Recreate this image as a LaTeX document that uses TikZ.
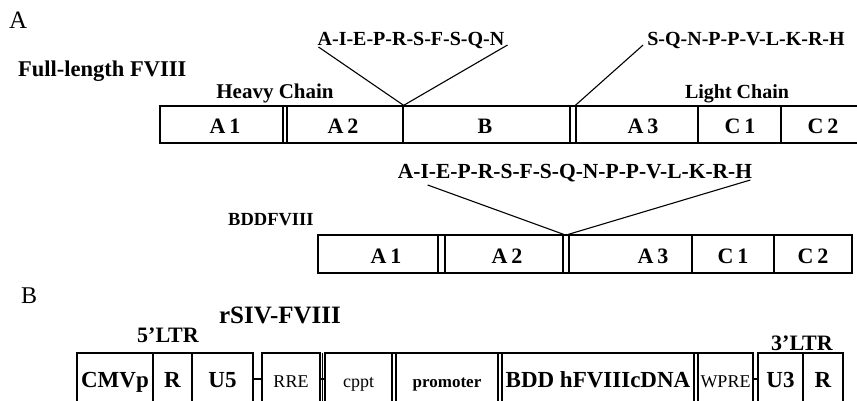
\documentclass[tikz,border=0pt]{standalone}
\usepackage{fontspec}
\setmainfont{Liberation Serif}
\newcommand{\fsz}[1]{\fontsize{#1}{#1}\selectfont}
\tikzset{
  txt/.style={inner sep=0pt, anchor=base},
  txtw/.style={inner sep=0pt, anchor=base west},
  panel/.style={txtw, font=\fsz{25}},
  title/.style={txt, font=\fsz{21}\bfseries},
  pep/.style={txt, font=\fsz{20}\bfseries},
  dom/.style={txt, font=\fsz{22}\bfseries},
  cell/.style={draw, line width=1.3pt, inner sep=0pt},
  vcell/.style={cell, minimum height=52pt, text height=16pt, text depth=0pt},
  vbig/.style={vcell, font=\fsz{23}\bfseries},
  vmid/.style={vcell, font=\fsz{17}\bfseries},
  vsmall/.style={vcell, font=\fsz{18}},
  frame/.style={draw, line width=1.3pt},
  link/.style={draw, line width=1.1pt}
}
\begin{document}
\begin{tikzpicture}[x=1pt, y=-1pt]
\useasboundingbox (0,0) rectangle (857,400);

% ---------- Panel A: full-length factor VIII ----------
\node[panel] (lblA) at (9,28) {A};
\node[txtw, font=\fsz{22.5}\bfseries] (fl) at (18,76) {Full-length FVIII};
\node[title] (heavy) at (275,98) {Heavy Chain};
\node[title, font=\fsz{20}\bfseries] (light) at (737,98) {Light Chain};

\draw[frame] (160,106) rectangle (875,143);
\node[cell, minimum width=123pt, minimum height=37pt] (a1) at (221.5,124.5) {};
\node[cell, minimum width=116pt, minimum height=37pt] (a2) at (345,124.5) {};
\node[cell, minimum width=167pt, minimum height=37pt] (b)  at (486.5,124.5) {};
\node[cell, minimum width=122pt, minimum height=37pt] (a3) at (637,124.5) {};
\node[cell, minimum width=83pt,  minimum height=37pt] (c1) at (739.5,124.5) {};
\node[cell, minimum width=94pt,  minimum height=37pt] (c2) at (828,124.5) {};

\node[dom] (ta1) at (225,133) {A\,1};
\node[dom] (ta2) at (343,133) {A\,2};
\node[dom] (tb)  at (485,133) {B};
\node[dom] (ta3) at (643,133) {A\,3};
\node[dom] (tc1) at (740,133) {C\,1};
\node[dom] (tc2) at (823,133) {C\,2};

\node[pep] (pep1) at (411,45) {A-I-E-P-R-S-F-S-Q-N};
\node[pep] (pep2) at (746,45) {S-Q-N-P-P-V-L-K-R-H};

\coordinate (p1l) at ([xshift=1pt,yshift=-2pt]pep1.base west);
\coordinate (p1r) at ([xshift=3pt]pep1.base east);
\coordinate (p2l) at ([xshift=-4pt]pep2.base west);
\draw[link] (p1l) -- (a2.north east) -- (p1r);
\draw[link] (p2l) -- (a3.north west);

% ---------- B-domain deleted factor VIII ----------
\node[txtw, font=\fsz{18.5}\bfseries] (bdd) at (228,225) {BDDFVIII};

\draw[frame] (318,235) rectangle (852,273);
\node[cell, minimum width=120pt, minimum height=38pt] (d1) at (378,254) {};
\node[cell, minimum width=118pt, minimum height=38pt] (d2) at (504,254) {};
\node[cell, minimum width=123pt, minimum height=38pt] (d3) at (630.5,254) {};
\node[cell, minimum width=82pt,  minimum height=38pt] (d4) at (733,254) {};
\node[cell, minimum width=78pt,  minimum height=38pt] (d5) at (813,254) {};

\node[dom] (td1) at (386,263) {A\,1};
\node[dom] (td2) at (507,263) {A\,2};
\node[dom] (td3) at (653,263) {A\,3};
\node[dom] (td4) at (733,263) {C\,1};
\node[dom] (td5) at (813,263) {C\,2};

\node[pep, font=\fsz{21.5}\bfseries] (pep3) at (575,178) {A-I-E-P-R-S-F-S-Q-N-P-P-V-L-K-R-H};
\coordinate (p3l) at ([xshift=30pt,yshift=-7pt]pep3.base west);
\coordinate (p3r) at ([xshift=-2pt,yshift=-2pt]pep3.base east);
\draw[link] (p3l) -- (d2.north east);
\draw[link] (d3.north west) -- (p3r);

% ---------- Panel B: rSIV-FVIII vector ----------
\node[panel, font=\fsz{24}] (lblB) at (21,303) {B};
\node[title, font=\fsz{22}\bfseries] (ltr5) at (168,342) {5’LTR};
\node[title, font=\fsz{25}\bfseries] (rsiv) at (280,323) {rSIV-FVIII};
\node[title, font=\fsz{22}\bfseries] (ltr3) at (802,350) {3’LTR};

\node[vbig, minimum width=76pt]  (cmv)  at (115,379)   {CMVp};
\node[vbig, minimum width=39pt]  (r5)   at (172.5,379) {R};
\node[vbig, minimum width=61pt]  (u5)   at (222.5,379) {U5};
\node[vsmall, minimum width=58pt] (rre) at (291,379)   {RRE};
\draw[frame] (322.5,353) -- (322.5,410);
\draw[frame] (325,353) rectangle (753,410);
\node[vsmall, minimum width=67pt] (cppt) at (358.5,379) {cppt};
\node[vmid, minimum width=102pt] (prom) at (447,379)   {promoter};
\node[vbig, minimum width=192pt] (bdd2) at (598,379)   {BDD hFVIIIcDNA};
\node[vsmall, minimum width=55pt] (wpre) at (725.5,379) {WPRE};
\node[vbig, minimum width=45pt]  (u3)   at (780.5,379) {U3};
\node[vbig, minimum width=40pt]  (r3)   at (823,379)   {R};

\draw[link] (u5.east) -- (rre.west);
\draw[link] (rre.east) -- (cppt.west);
\draw[link] (wpre.east) -- (u3.west);
\end{tikzpicture}
\end{document}
